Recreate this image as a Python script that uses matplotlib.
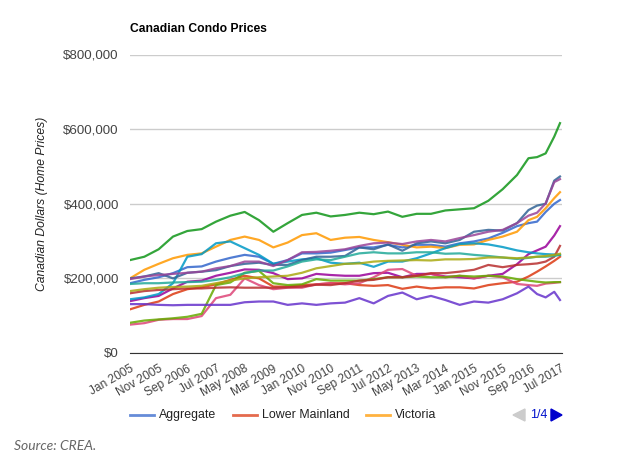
import matplotlib
matplotlib.use("Agg")
import matplotlib.pyplot as plt
from matplotlib.lines import Line2D

# months since Jan 2005
months = [0, 5, 10, 15, 20, 25, 30, 35, 40, 45, 50, 55, 60, 65, 70, 75, 80, 85, 90, 95, 100,
          105, 110, 115, 120, 125, 130, 135, 139, 142, 145, 148, 150]

# prices in thousands of dollars
aggregate = [187, 196, 203, 214, 230, 232, 245, 255, 263, 258, 239, 249, 267, 267, 269, 276, 283, 283, 290, 283, 290,
             290, 285, 294, 299, 307, 322, 340, 348, 352, 378, 400, 410]
lower_mainland = [117, 129, 138, 158, 171, 176, 184, 196, 207, 200, 178, 178, 182, 184, 187, 187, 182, 180, 182, 172, 178,
                  173, 176, 176, 173, 182, 187, 191, 205, 218, 232, 247, 258]
victoria = [200, 223, 239, 254, 263, 267, 285, 303, 312, 303, 283, 296, 316, 321, 303, 309, 311, 303, 297, 290, 283,
            285, 281, 290, 291, 303, 312, 325, 356, 365, 388, 415, 431]
top_green = [249, 258, 278, 312, 327, 332, 352, 368, 378, 356, 325, 348, 370, 376, 366, 370, 376, 372, 379, 365, 373,
             373, 382, 385, 388, 408, 439, 477, 522, 525, 535, 580, 616]
magenta = [139, 147, 153, 173, 191, 194, 207, 215, 224, 223, 214, 198, 200, 212, 209, 207, 207, 214, 215, 203, 212,
           212, 205, 203, 200, 207, 212, 238, 265, 275, 285, 315, 340]
cyan = [144, 149, 158, 187, 258, 265, 294, 299, 281, 263, 239, 245, 251, 254, 242, 239, 242, 231, 245, 245, 254,
        267, 281, 292, 294, 291, 284, 275, 270, 267, 265, 264, 263]
pink = [76, 80, 89, 91, 91, 99, 147, 156, 200, 182, 171, 175, 175, 184, 187, 184, 187, 203, 223, 225, 207,
        212, 203, 207, 200, 207, 203, 185, 182, 180, 186, 188, 190]
lime = [81, 87, 90, 93, 97, 105, 182, 189, 215, 220, 187, 182, 184, 198, 194, 194, 194, 198, 203, 203, 205,
        203, 203, 207, 205, 207, 205, 198, 194, 191, 189, 190, 190]
dark_red = [160, 166, 169, 171, 173, 173, 175, 176, 175, 175, 175, 176, 178, 183, 182, 187, 194, 196, 203, 203, 207,
            214, 214, 218, 223, 236, 230, 236, 238, 240, 245, 258, 287]
steel = [200, 205, 214, 200, 215, 218, 222, 233, 239, 242, 236, 236, 249, 258, 258, 260, 283, 278, 291, 274, 294,
         299, 294, 303, 325, 330, 328, 348, 383, 395, 400, 462, 473]
purple = [198, 205, 209, 212, 215, 218, 227, 233, 245, 245, 233, 249, 270, 271, 274, 278, 287, 294, 296, 292, 299,
          303, 299, 308, 316, 325, 330, 348, 368, 376, 401, 458, 466]
teal = [185, 187, 187, 189, 190, 191, 196, 203, 214, 221, 221, 232, 245, 251, 249, 258, 267, 270, 267, 267, 270,
        270, 266, 267, 263, 260, 256, 252, 255, 258, 258, 260, 263]
olive = [166, 171, 175, 177, 178, 180, 187, 194, 200, 203, 205, 207, 215, 227, 233, 239, 240, 245, 247, 248, 249,
         248, 251, 251, 252, 256, 256, 254, 256, 258, 260, 263, 266]
violet = [131, 131, 129, 128, 129, 129, 129, 129, 136, 138, 138, 129, 133, 129, 133, 135, 147, 133, 153, 162, 144,
          153, 142, 129, 138, 135, 144, 160, 178, 158, 149, 164, 142]

series = [aggregate, lower_mainland, victoria, top_green, magenta, cyan, pink, lime,
          dark_red, steel, purple, teal, olive, violet]
colors = ['#3366cc', '#dc3912', '#ff9900', '#109618', '#990099', '#0099c6', '#dd4477', '#66aa00',
          '#b82e2e', '#316395', '#994499', '#22aa99', '#aaaa11', '#6633cc']

tick_months = [0, 10, 20, 30, 40, 50, 60, 70, 80, 90, 100, 110, 120, 130, 140, 150]
tick_labels = ['Jan 2005', 'Nov 2005', 'Sep 2006', 'Jul 2007', 'May 2008', 'Mar 2009', 'Jan 2010', 'Nov 2010',
               'Sep 2011', 'Jul 2012', 'May 2013', 'Mar 2014', 'Jan 2015', 'Nov 2015', 'Sep 2016', 'Jul 2017']
y_ticks = [0, 200, 400, 600, 800]
y_labels = ['$0', '$200,000', '$400,000', '$600,000', '$800,000']
legend_names = ['Aggregate', 'Lower Mainland', 'Victoria']

plt.rcParams['font.family'] = ['Liberation Sans', 'DejaVu Sans']
W, H = 640, 468
fig = plt.figure(figsize=(6.4, 4.68), dpi=100)
ax = fig.add_axes([130 / W, 1 - 353 / H, 432 / W, 298.5 / H])

for vals, c in zip(series, colors):
    ax.plot(months, vals, color=c, lw=1.6, alpha=0.85, solid_joinstyle='round')

ax.set_xlim(0, 150.7)
ax.set_ylim(0, 800)
ax.set_yticks(y_ticks)
ax.set_yticklabels(y_labels, fontsize=9.6, color='#444444')
ax.set_xticks(tick_months)
ax.set_xticklabels(tick_labels, fontsize=8.6, color='#444444', rotation=30, ha='right', rotation_mode='anchor')
ax.tick_params(length=0)
ax.tick_params(axis='y', pad=8)
ax.tick_params(axis='x', pad=7)
ax.grid(axis='y', color='#cccccc', lw=1)
ax.set_axisbelow(True)
for name in ['top', 'left', 'right']:
    ax.spines[name].set_visible(False)
ax.spines['bottom'].set_color('#333333')


def fx(px):
    return px / W


def fy(py):
    return 1 - py / H


fig.text(fx(130), fy(29), 'Canadian Condo Prices', fontsize=8.7, fontweight='bold', color='black', va='center')
fig.text(fx(42), fy(204), 'Canadian Dollars (Home Prices)', fontsize=8.7, style='italic', color='#222222',
         rotation=90, va='center', ha='center')

# legend row, only page one of four is shown
for x0, name, c in zip([130, 233, 366], legend_names, colors):
    fig.add_artist(Line2D([fx(x0), fx(x0 + 24)], [fy(415), fy(415)], color=c, lw=2, alpha=0.75))
    fig.text(fx(x0 + 29), fy(415), name, fontsize=8.9, color='#222222', va='center')

fig.text(fx(530), fy(415), '1/4', fontsize=8.9, color='#0011cc', va='center')
fig.add_artist(plt.Polygon([[fx(525), fy(409)], [fx(525), fy(421)], [fx(513), fy(415)]],
                           closed=True, color='#cccccc', transform=fig.transFigure))
fig.add_artist(plt.Polygon([[fx(551), fy(409)], [fx(551), fy(421)], [fx(562), fy(415)]],
                           closed=True, color='#0000cc', transform=fig.transFigure))

fig.text(fx(14), fy(446), 'Source: CREA.', fontsize=10, style='italic', color='#666666', va='center',
         family=['Lato', 'DejaVu Sans'])

fig.savefig('out.png', dpi=100)
